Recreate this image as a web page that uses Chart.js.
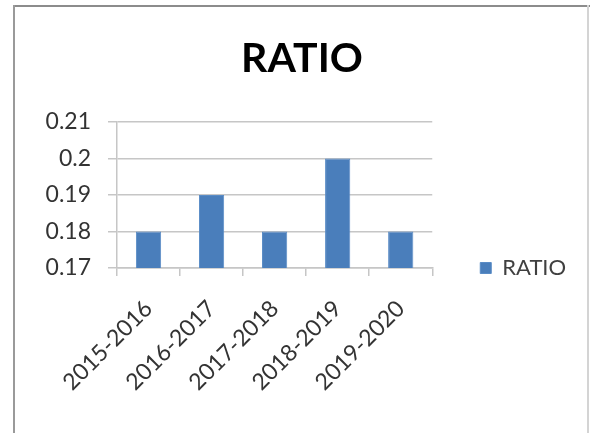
<!DOCTYPE html>
<html>
<head>
<meta charset="utf-8">
<title>RATIO</title>
<script src="https://cdn.jsdelivr.net/npm/chart.js@4"></script>
<style>
  html, body { margin: 0; padding: 0; background: #fff; }
  #wrap { position: relative; width: 590px; height: 433px; overflow: hidden; }
  #chart { position: absolute; left: 0; top: 0; }
  .frame { position: absolute; pointer-events: none; }
  #frameTop { left: 13px; top: 5px; width: 577px; height: 2px; background: #8c8c8c; }
  #frameLeft { left: 13px; top: 5px; width: 2px; height: 428px; background: #9a9a9a; }
  #frameRight { left: 587px; top: 5px; width: 2px; height: 428px; background: #d4d4d4; }
</style>
</head>
<body>
<div id="wrap">
  <canvas id="chart" width="590" height="433"></canvas>
  <div class="frame" id="frameTop"></div>
  <div class="frame" id="frameLeft"></div>
  <div class="frame" id="frameRight"></div>
</div>
<script>
// Fiscal years on the category axis
const categories = ['2015-2016', '2016-2017', '2017-2018', '2018-2019', '2019-2020'];
// RATIO per fiscal year
const ratioValues = [0.18, 0.19, 0.18, 0.20, 0.18];
// Value-axis labels, bottom to top
const yTickLabels = ['0.17', '0.18', '0.19', '0.2', '0.21'];

const FONT = 'Lato, "Open Sans", sans-serif';
const GRID = '#c6c6c6';

// Keep the legend entry level with the category axis line,
// and give its box a little room on the right so the text is not clipped
const legendToBaseline = {
  id: 'legendToBaseline',
  afterLayout(chart) {
    const lg = chart.legend;
    if (!lg) return;
    const dy = chart.chartArea.bottom - (lg.top + lg.bottom) / 2;
    lg.top += dy;
    lg.bottom += dy;
    lg.right += 14;
    lg.width += 14;
  }
};

new Chart(document.getElementById('chart'), {
  type: 'bar',
  data: {
    labels: categories,
    datasets: [{
      label: 'RATIO',
      data: ratioValues,
      backgroundColor: '#4a7ebb',
      borderColor: '#5a8cc6',
      borderWidth: 1,
      categoryPercentage: 1,
      barPercentage: 0.4
    }]
  },
  options: {
    responsive: false,
    animation: false,
    layout: { padding: { left: 41.5, right: 27.5, top: 0, bottom: 0 } },
    plugins: {
      title: {
        display: true,
        text: 'RATIO',
        color: '#000',
        font: { family: FONT, size: 41, weight: 'bold' },
        padding: { top: 34.4, bottom: 38.4 }
      },
      legend: {
        display: true,
        position: 'right',
        align: 'center',
        fullSize: false,
        labels: {
          color: '#404040',
          font: { family: FONT, size: 22 },
          boxWidth: 11,
          boxHeight: 11,
          padding: 48
        }
      },
      tooltip: { enabled: false }
    },
    scales: {
      x: {
        grid: {
          display: true,
          drawOnChartArea: false,
          drawTicks: true,
          tickLength: 8,
          color: GRID,
          lineWidth: 1.5
        },
        border: { display: true, color: GRID, width: 1.5 },
        ticks: {
          color: '#333',
          font: { family: FONT, size: 23 },
          minRotation: 45,
          maxRotation: 45,
          autoSkip: false,
          padding: 19
        },
        afterFit(scale) { scale.height = 165; }
      },
      y: {
        min: 0.17,
        max: 0.21,
        grid: {
          color: GRID,
          lineWidth: 1.5,
          drawTicks: true,
          tickLength: 9
        },
        border: { display: true, color: GRID, width: 1.5 },
        ticks: {
          stepSize: 0.01,
          color: '#333',
          font: { family: FONT, size: 23 },
          padding: 17,
          callback: (value, index) => yTickLabels[index]
        },
        afterFit(scale) { scale.width = 75.5; }
      }
    }
  },
  plugins: [legendToBaseline]
});
</script>
</body>
</html>
